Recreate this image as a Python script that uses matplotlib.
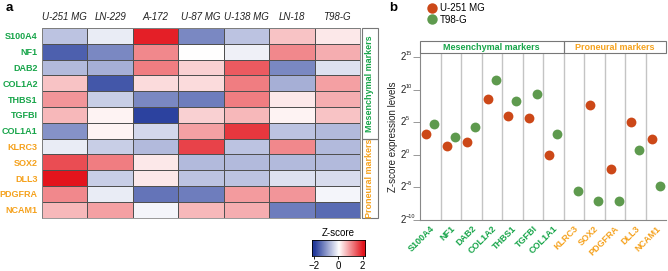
import numpy as np
import matplotlib
matplotlib.use("Agg")
import matplotlib.pyplot as plt
from matplotlib.colors import LinearSegmentedColormap
from matplotlib.patches import Rectangle
from matplotlib.lines import Line2D
import matplotlib.transforms as mtransforms

plt.rcParams['font.family'] = ['Liberation Sans', 'DejaVu Sans']

# ---------------- data ----------------
cell_lines = ["U-251 MG", "LN-229", "A-172", "U-87 MG", "U-138 MG", "LN-18", "T98-G"]
genes = ["S100A4", "NF1", "DAB2", "COL1A2", "THBS1", "TGFBI", "COL1A1",
         "KLRC3", "SOX2", "DLL3", "PDGFRA", "NCAM1"]
n_mes = 7  # first 7 genes are mesenchymal markers

zscore = [
    [-0.6, -0.2,  1.9, -1.2, -0.6,  0.5,  0.2],   # S100A4
    [-1.6, -1.2,  1.0,  0.0, -0.15, 1.0,  0.7],   # NF1
    [-0.7, -0.8,  1.1,  0.4,  1.4, -1.2, -0.3],   # DAB2
    [ 0.5, -1.7,  0.3,  0.3,  1.1, -0.8,  0.8],   # COL1A2
    [ 0.9, -0.5, -1.2, -1.3,  1.1,  0.2,  0.7],   # THBS1
    [ 0.6,  0.1, -1.9,  0.4,  0.6,  0.1,  0.5],   # TGFBI
    [-1.1,  0.1, -0.4,  0.8,  1.7, -0.6, -0.7],   # COL1A1
    [-0.2, -0.5, -0.7,  1.6, -0.6,  1.0, -0.7],   # KLRC3
    [ 1.5,  1.1,  0.2, -0.7, -0.7, -0.7, -0.7],   # SOX2
    [ 2.0, -0.5,  0.2, -0.6, -0.6, -0.3, -0.35],  # DLL3
    [ 1.0, -0.2, -1.4, -1.3,  0.85, 0.9, -0.1],   # PDGFRA
    [ 0.6,  0.8, -0.1,  0.6,  0.7, -1.3, -1.5],   # NCAM1
]

# panel b (log2 values)
genes_b = ["S100A4", "NF1", "DAB2", "COL1A2", "THBS1", "TGFBI", "COL1A1",
           "KLRC3", "SOX2", "PDGFRA", "DLL3", "NCAM1"]
u251_log2 = [3.2, 1.4, 2.0, 8.6, 6.0, 5.6, 0.0, np.nan, 7.6, -2.2, 5.1, 2.35]
t98g_log2 = [4.7, 2.8, 4.3, 11.5, 8.2, 9.4, 3.2, -5.5, -7.05, -7.05, 0.7, -4.85]
yticks_b = [-10, -5, 0, 5, 10, 15]

GREEN_TXT = "#18A54A"
ORANGE_TXT = "#F5A21E"
RED_PT = "#CC4818"
GREEN_PT = "#5E9A4E"

W, H = 668, 271
fig = plt.figure(figsize=(W / 100, H / 100), dpi=100)


def fx(px):
    return px / W


def fy(py):
    return 1 - py / H


# ---------------- panel a: heatmap ----------------
cmap = LinearSegmentedColormap.from_list("bwr2", ["#22399A", "#FFFFFF", "#E3141C"])
ax = fig.add_axes([fx(42), fy(217.7), fx(360) - fx(42), fy(28) - fy(217.7)])
data = np.array(zscore)
ax.pcolormesh(np.arange(len(cell_lines) + 1), np.arange(len(genes) + 1), data,
              cmap=cmap, vmin=-2, vmax=2, edgecolors="#505050", linewidth=0.5)
ax.set_xlim(0, len(cell_lines))
ax.set_ylim(len(genes), 0)
ax.xaxis.tick_top()
ax.set_xticks(np.arange(len(cell_lines)) + 0.5)
ax.set_xticklabels(cell_lines, fontsize=7, style="italic", color="#222222")
ax.set_yticks(np.arange(len(genes)) + 0.5)
ax.set_yticklabels(genes, fontsize=6.5, fontweight="bold")
for i, t in enumerate(ax.get_yticklabels()):
    t.set_color(GREEN_TXT if i < n_mes else ORANGE_TXT)
ax.tick_params(axis="y", length=0, pad=3)
ax.tick_params(axis="x", length=0, pad=4)
for s in ax.spines.values():
    s.set_color("#888888")
    s.set_linewidth(0.6)

# side boxes
sax = fig.add_axes([fx(362.3), fy(218), fx(377.7) - fx(362.3), fy(28.3) - fy(218)])
sax.set_xlim(0, 1)
sax.set_ylim(len(genes), 0)
sax.axis("off")
sax.add_patch(Rectangle((0, 0), 1, n_mes, fill=False, ec="#777777", lw=0.8, clip_on=False))
sax.add_patch(Rectangle((0, n_mes), 1, len(genes) - n_mes, fill=False, ec="#777777", lw=0.8, clip_on=False))
sax.text(0.5, n_mes / 2, "Mesenchymal markers", rotation=90, ha="center", va="center",
         fontsize=6.5, fontweight="bold", color=GREEN_TXT)
sax.text(0.5, (n_mes + len(genes)) / 2, "Proneural markers", rotation=90, ha="center", va="center",
         fontsize=6.5, fontweight="bold", color=ORANGE_TXT)

# colorbar
cax = fig.add_axes([fx(311.7), fy(256), fx(365) - fx(311.7), fy(240) - fy(256)])
grad = np.linspace(-2.2, 2.2, 256).reshape(1, -1)
cax.imshow(grad, aspect="auto", cmap=cmap, vmin=-2, vmax=2, extent=[-2.2, 2.2, 0, 1])
cax.set_xlim(-2.2, 2.2)
cax.set_yticks([])
cax.set_xticks([-2, 0, 2])
cax.set_xticklabels(["\u22122", "0", "2"], fontsize=7)
cax.tick_params(axis="x", length=2, pad=1.5, width=0.6)
for s in cax.spines.values():
    s.set_linewidth(0.6)
fig.text(fx(338.5), fy(233), "Z-score", ha="center", va="center", fontsize=7)

fig.text(fx(9.5), fy(8), "a", ha="center", va="center", fontsize=9.5, fontweight="bold")
fig.text(fx(393), fy(8), "b", ha="center", va="center", fontsize=9.5, fontweight="bold")

# ---------------- panel b: dot plot ----------------
ylo, yhi = -10, 15 + (57 - 53.3) / 6.52
bx = fig.add_axes([fx(420), fy(220), fx(666) - fx(420), fy(53.3) - fy(220)])
n = len(genes_b)
xs = np.arange(n)
bx.set_xlim(-0.5, n - 0.5)
bx.set_ylim(ylo, yhi)
for b in np.arange(n - 1) + 0.5:
    bx.axvline(b, color="#C4C4C4", lw=1.0, zorder=0)
bx.scatter(xs - 0.19, u251_log2, s=50, color=RED_PT, zorder=3, linewidths=0)
bx.scatter(xs + 0.19, t98g_log2, s=50, color=GREEN_PT, zorder=3, linewidths=0)
bx.set_yticks(yticks_b)
bx.set_yticklabels([""] * len(yticks_b))
bx.tick_params(axis="y", length=5, width=0.6, color="#888888", pad=1.5)
# power-of-two tick labels with small exponents
blend = mtransforms.blended_transform_factory(fig.transFigure, bx.transData)
for v in yticks_b:
    bx.text(fx(406), v, "2", transform=blend, ha="right", va="center", fontsize=7,
            color="#222222")
    bx.text(fx(406), v, str(v).replace("-", "\u2212"),
            transform=blend + mtransforms.ScaledTranslation(0, 2.5 / 72, fig.dpi_scale_trans),
            ha="left", va="center", fontsize=4, color="#222222")
bx.set_xticks(xs)
bx.set_xticklabels(genes_b, rotation=45, ha="right", rotation_mode="anchor",
                   fontsize=6.5, fontweight="bold")
for i, t in enumerate(bx.get_xticklabels()):
    t.set_color(GREEN_TXT if i < n_mes else ORANGE_TXT)
bx.tick_params(axis="x", length=0, pad=3)
for k in ["top", "right"]:
    bx.spines[k].set_visible(False)
for k in ["left", "bottom"]:
    bx.spines[k].set_color("#888888")
    bx.spines[k].set_linewidth(0.8)
fig.text(fx(393), fy(137), "Z-score expression levels", rotation=90, ha="center",
         va="center", fontsize=7, color="#222222")

# header boxes
hx = fig.add_axes([fx(420), fy(53.3), fx(666) - fx(420), fy(40.7) - fy(53.3)])
hx.set_xlim(-0.5, n - 0.5)
hx.set_ylim(0, 1)
hx.axis("off")
hx.add_patch(Rectangle((-0.5, 0), n_mes, 1, fill=False, ec="#777777", lw=0.8, clip_on=False))
hx.add_patch(Rectangle((n_mes - 0.5, 0), n - n_mes, 1, fill=False, ec="#777777", lw=0.8, clip_on=False))
hx.text(-0.5 + n_mes / 2, 0.5, "Mesenchymal markers", ha="center", va="center",
        fontsize=6.5, fontweight="bold", color=GREEN_TXT)
hx.text(n_mes - 0.5 + (n - n_mes) / 2, 0.5, "Proneural markers", ha="center", va="center",
        fontsize=6.5, fontweight="bold", color=ORANGE_TXT)

handles = [Line2D([], [], marker="o", ls="", color=RED_PT, markersize=7.5, mew=0, label="U-251 MG"),
           Line2D([], [], marker="o", ls="", color=GREEN_PT, markersize=7.5, mew=0, label="T98-G")]
fig.legend(handles=handles, loc="upper left", bbox_to_anchor=(fx(422), fy(1)),
           frameon=False, fontsize=7, handletextpad=0.0, labelspacing=0.2,
           borderaxespad=0, borderpad=0.2, handlelength=1.6)

fig.savefig("out.png", dpi=100)
